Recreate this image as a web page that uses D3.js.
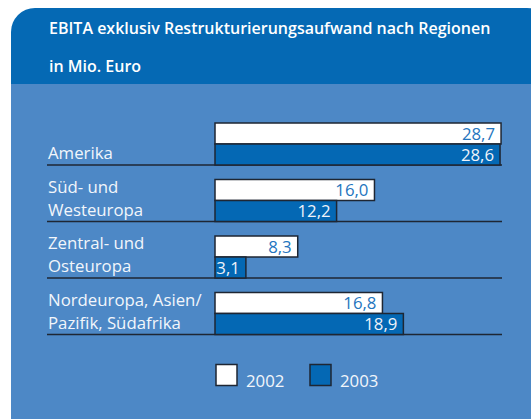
<!DOCTYPE html>
<html>
<head>
<meta charset="utf-8">
<script src="https://cdn.jsdelivr.net/npm/d3@7"></script>
<style>
  body { margin: 0; background: #fff; }
  text { font-family: "Open Sans", "DejaVu Sans", sans-serif; }
</style>
</head>
<body>
<div id="chart"></div>
<script>
// Data
const regions = ["Amerika", "Süd- und Westeuropa", "Zentral- und Osteuropa", "Nordeuropa, Asien/ Pazifik, Südafrika"];
const regionLines = [["Amerika"], ["Süd- und", "Westeuropa"], ["Zentral- und", "Osteuropa"], ["Nordeuropa, Asien/", "Pazifik, Südafrika"]];
const years = ["2002", "2003"];
const values2002 = [28.7, 16.0, 8.3, 16.8];
const values2003 = [28.6, 12.2, 3.1, 18.9];
const title1 = "EBITA exklusiv Restrukturierungsaufwand nach Regionen";
const title2 = "in Mio. Euro";

const W = 531, H = 419;
const headBlue = "#0569B4";
const panelBlue = "#4D88C6";
const barBlue = "#0468B4";
const lineCol = "#1E2633";
const fmt = v => d3.format(".1f")(v).replace(".", ",");

const svg = d3.select("#chart").append("svg")
    .attr("width", W)
    .attr("height", H);

// Panel with rounded top corners
svg.append("defs").append("clipPath")
    .attr("id", "clip")
    .append("rect")
    .attr("width", W)
    .attr("height", H);

const panel = svg.append("g").attr("clip-path", "url(#clip)");
panel.append("rect")
    .attr("x", 11).attr("y", 8)
    .attr("width", 540).attr("height", 440)
    .attr("rx", 24)
    .attr("fill", headBlue);
panel.append("rect")
    .attr("x", 11).attr("y", 84)
    .attr("width", 540).attr("height", 400)
    .attr("fill", panelBlue);

// Title
svg.append("text")
    .attr("x", 49).attr("y", 34)
    .attr("fill", "#fff")
    .style("font-size", "16px")
    .style("font-weight", 600)
    .text(title1);
svg.append("text")
    .attr("x", 49).attr("y", 72)
    .attr("fill", "#fff")
    .style("font-size", "16px")
    .style("font-weight", 600)
    .text(title2);

// Scales
const x = d3.scaleLinear().domain([0, 30]).range([215, 514]);
const y = d3.scaleBand().domain(regions).range([123, 334.5]).paddingInner(14.5 / 56.5).paddingOuter(0);
const y1 = d3.scaleBand().domain(years).range([0, y.bandwidth()]);

const data = regions.map((r, i) => ({ region: r, lines: regionLines[i], values: [values2002[i], values2003[i]] }));

const groups = svg.selectAll(".group")
  .data(data)
  .join("g")
    .attr("class", "group")
    .attr("transform", d => `translate(0,${y(d.region)})`);

// Baseline under each group
groups.append("line")
    .attr("x1", 47).attr("x2", 502)
    .attr("y1", y.bandwidth()).attr("y2", y.bandwidth())
    .attr("stroke", lineCol)
    .attr("stroke-width", 1.5);

// Region labels
groups.each(function(d) {
  const g = d3.select(this);
  const n = d.lines.length;
  d.lines.forEach((ln, j) => {
    g.append("text")
      .attr("x", 48)
      .attr("y", y.bandwidth() - 6 - (n - 1 - j) * 23)
      .attr("fill", "#F2F6FB")
      .style("font-size", "16.8px")
      .text(ln);
  });
});

// Bars
groups.selectAll(".bar")
  .data(d => d.values.map((v, k) => ({ year: years[k], value: v })))
  .join("rect")
    .attr("class", "bar")
    .attr("x", x(0))
    .attr("y", d => y1(d.year))
    .attr("width", d => x(d.value) - x(0))
    .attr("height", y1.bandwidth())
    .attr("fill", d => d.year === "2002" ? "#fff" : barBlue)
    .attr("stroke", lineCol)
    .attr("stroke-width", 1.5);

groups.selectAll(".val")
  .data(d => d.values.map((v, k) => ({ year: years[k], value: v })))
  .join("text")
    .attr("class", "val")
    .attr("x", d => x(d.value) - 6)
    .attr("y", d => y1(d.year) + y1.bandwidth() - 4.5)
    .attr("text-anchor", "end")
    .attr("fill", d => d.year === "2002" ? "#2475BE" : "#EEF3FA")
    .style("font-size", "16.8px")
    .text(d => fmt(d.value));

// Legend
const legend = svg.append("g").attr("transform", "translate(216,364.5)");
const lg = legend.selectAll("g")
  .data(years)
  .join("g")
    .attr("transform", (d, i) => `translate(${i * 94},0)`);
lg.append("rect")
    .attr("width", 21).attr("height", 21)
    .attr("fill", d => d === "2002" ? "#fff" : barBlue)
    .attr("stroke", lineCol)
    .attr("stroke-width", 1.5);
lg.append("text")
    .attr("x", 30).attr("y", 22.5)
    .attr("fill", "#F2F6FB")
    .style("font-size", "16.8px")
    .text(d => d);
</script>
</body>
</html>
